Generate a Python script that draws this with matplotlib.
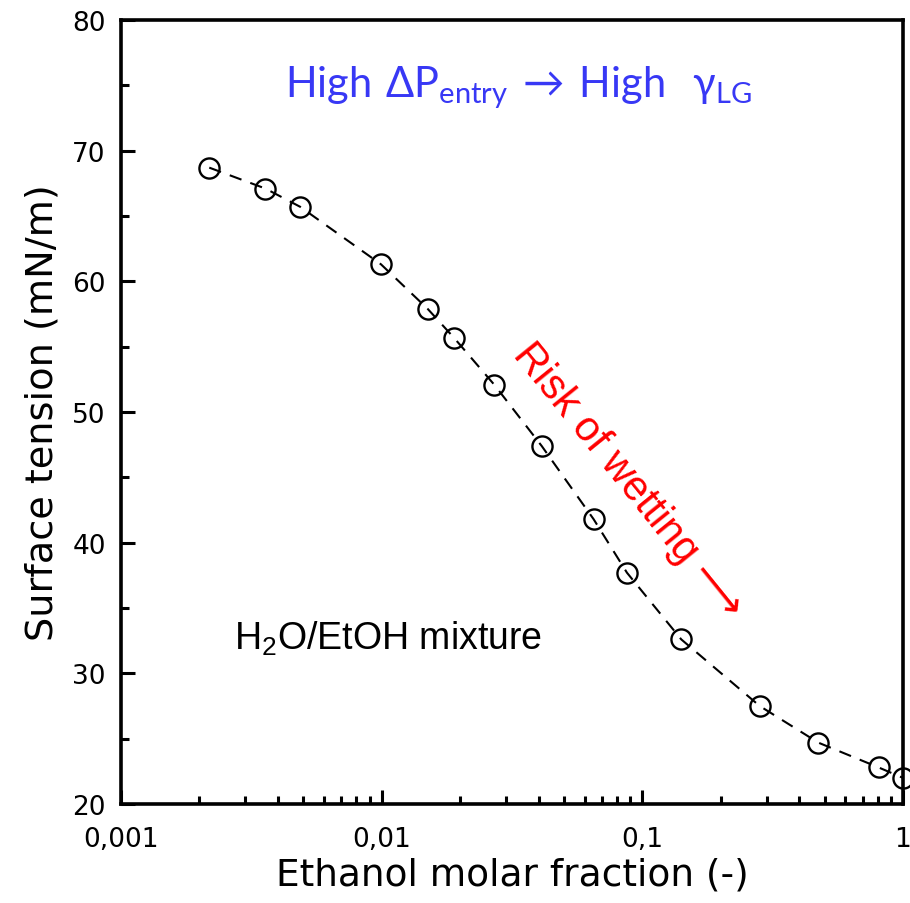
import matplotlib
matplotlib.use("Agg")
import matplotlib.pyplot as plt
from matplotlib.ticker import FixedLocator, FuncFormatter, LogLocator, MultipleLocator

# ----------------------------------------------------------------------
# Data
# ----------------------------------------------------------------------
ethanol_fraction = [0.00218, 0.00358, 0.00487, 0.00994, 0.0150, 0.0189, 0.0270,
                    0.0411, 0.0650, 0.0873, 0.141, 0.282, 0.473, 0.806, 1.0]
surface_tension = [68.7, 67.1, 65.7, 61.3, 57.9, 55.7, 52.1,
                   47.4, 41.8, 37.7, 32.6, 27.5, 24.7, 22.8, 22.0]

x_ticks = [0.001, 0.01, 0.1, 1]
x_tick_labels = ["0,001", "0,01", "0,1", "1"]
y_ticks = [20, 30, 40, 50, 60, 70, 80]

# ----------------------------------------------------------------------
# Style
# ----------------------------------------------------------------------
plt.rcParams["font.family"] = ["DejaVu Sans"]
plt.rcParams["xtick.labelsize"] = 19
plt.rcParams["ytick.labelsize"] = 19
plt.rcParams["mathtext.fontset"] = "custom"
plt.rcParams["mathtext.rm"] = "Liberation Sans"
plt.rcParams["mathtext.sf"] = "Lato"
plt.rcParams["mathtext.fallback"] = "stixsans"

fig = plt.figure(figsize=(9.1, 9.04), dpi=100)
ax = fig.add_axes([0.133, 0.1095, 0.8593, 0.8673])

line, = ax.plot(ethanol_fraction, surface_tension, color="black", lw=1.5,
                linestyle="--", marker="o", markersize=14.5, mfc="none",
                mec="black", mew=1.7, clip_on=False)
line.set_dashes([6, 4.5])

ax.set_xscale("log")
ax.set_xlim(0.001, 1)
ax.set_ylim(20, 80)

ax.xaxis.set_major_locator(FixedLocator(x_ticks))
ax.xaxis.set_major_formatter(FuncFormatter(
    lambda v, pos: x_tick_labels[x_ticks.index(v)] if v in x_ticks else ""))
ax.xaxis.set_minor_locator(LogLocator(base=10, subs=range(2, 10)))
ax.xaxis.set_minor_formatter(FuncFormatter(lambda v, pos: ""))
ax.yaxis.set_major_locator(FixedLocator(y_ticks))
ax.yaxis.set_minor_locator(MultipleLocator(5))

for s in ax.spines.values():
    s.set_linewidth(2.6)
ax.tick_params(which="major", direction="in", length=10, width=2.2)
ax.tick_params(which="minor", direction="in", length=5.5, width=2.2)
ax.tick_params(axis="x", which="major", labelsize=19, pad=16)
ax.tick_params(axis="y", which="major", labelsize=19, pad=11)

ax.set_xlabel("Ethanol molar fraction (-)", fontsize=27)
ax.set_ylabel("Surface tension (mN/m)", fontsize=27.5)
ax.xaxis.set_label_coords(0.5, -0.067)
ax.yaxis.set_label_coords(-0.077, 0.5)

# ----------------------------------------------------------------------
# Annotations
# ----------------------------------------------------------------------
ax.text(0.509, 0.903,
        r"$\mathsf{High\ \Delta P_{entry}\ \!\rightarrow\!\ High\ \ \gamma_{LG}}$",
        transform=ax.transAxes, ha="center", va="baseline",
        fontsize=30, color="#3838F5", math_fontfamily="custom")

ax.text(0.648, 0.413, "Risk of wetting \u27f6", transform=ax.transAxes,
        ha="center", va="center", rotation=-51, fontsize=30, color="red",
        family=["Liberation Sans", "DejaVu Sans"])

ax.text(0.3414, 0.1977, r"H$_2$O/EtOH mixture", transform=ax.transAxes,
        ha="center", va="baseline", fontsize=27, color="black",
        family=["Liberation Sans"], math_fontfamily="custom")

fig.savefig("out.png", dpi=100)
